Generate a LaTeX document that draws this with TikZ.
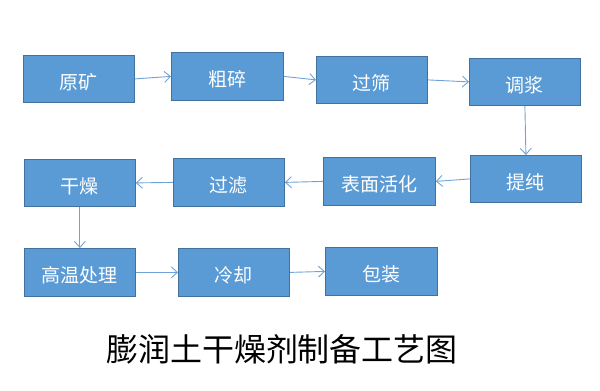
\documentclass[tikz,border=0pt]{standalone}
\usepackage{fontspec}
\newfontfamily\cjk{Noto Sans CJK SC}
\usetikzlibrary{arrows.meta}
\definecolor{boxfill}{HTML}{5B9BD5}
\definecolor{boxline}{HTML}{41719C}
\definecolor{arrowc}{HTML}{6FA3D8}
\begin{document}
\begin{tikzpicture}[x=1pt,y=-1pt,
  stepbox/.style={draw=boxline, line width=0.8pt, fill=boxfill, text=white, font=\cjk\fontsize{19}{19}\selectfont},
  boxtext/.style={text=white, font=\cjk\fontsize{19}{19}\selectfont},
  flow/.style={draw=arrowc, line width=0.9pt, -{Straight Barb[length=6pt,width=11pt]}}]
\useasboundingbox (0,0) rectangle (600,391);
\newcommand{\bx}[5]{\node[stepbox, minimum width=#3-#2, minimum height=#5-#4, anchor=north west] (#1) at (#2,#4) {};}
\bx{a}{23}{134}{55}{102}
\bx{b}{171}{283}{52}{100}
\bx{c}{316}{427}{56}{103}
\bx{d}{469}{580}{58}{105}
\bx{e}{470}{581}{155}{202}
\bx{f}{323}{435}{157}{205}
\bx{g}{173}{284}{158}{206}
\bx{h}{24}{135}{159}{206}
\bx{i}{24}{135}{248}{296}
\bx{j}{178}{289}{248}{296}
\bx{k}{325}{437}{247}{295}
\node[boxtext] (ta) at ([yshift=-3pt]a.center) {原矿};
\node[boxtext] (tb) at ([yshift=-3pt]b.center) {粗碎};
\node[boxtext] (tc) at ([yshift=-3pt]c.center) {过筛};
\node[boxtext] (td) at ([yshift=-3pt]d.center) {调浆};
\node[boxtext] (te) at ([yshift=-3pt]e.center) {提纯};
\node[boxtext] (tf) at ([yshift=-3pt]f.center) {表面活化};
\node[boxtext] (tg) at ([yshift=-3pt]g.center) {过滤};
\node[boxtext] (th) at ([yshift=-3pt]h.center) {干燥};
\node[boxtext] (ti) at ([yshift=-3pt]i.center) {高温处理};
\node[boxtext] (tj) at ([yshift=-3pt]j.center) {冷却};
\node[boxtext] (tk) at ([yshift=-3pt]k.center) {包装};
\draw[flow] (a.east) -- (b.west);
\draw[flow] (b.east) -- (c.west);
\draw[flow] (c.east) -- (d.west);
\draw[flow] (d.south) -- (e.north);
\draw[flow] (e.west) -- (f.east);
\draw[flow] (f.west) -- (g.east);
\draw[flow] (g.west) -- (h.east);
\draw[flow] (h.south) -- (i.north);
\draw[flow] (i.east) -- (j.west);
\draw[flow] (j.east) -- (k.west);
\node[font=\cjk\fontsize{32}{32}\selectfont, text=black] (title) at (282,349) {膨润土干燥剂制备工艺图};
\end{tikzpicture}
\end{document}
